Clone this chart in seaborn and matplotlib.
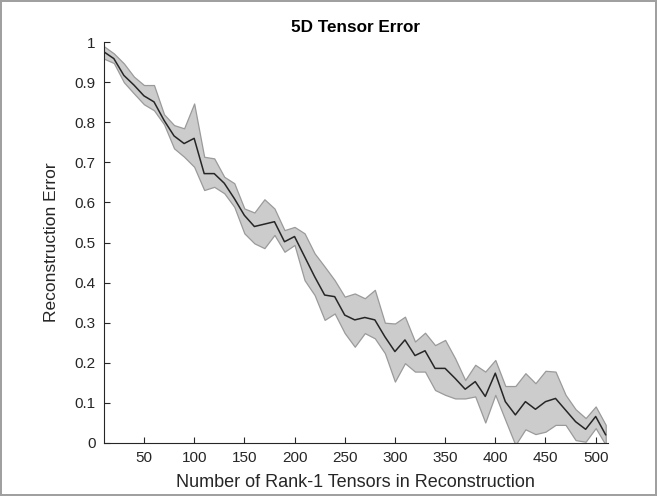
import numpy as np
import pandas as pd
import matplotlib
matplotlib.use("Agg")
import matplotlib.pyplot as plt
import seaborn as sns

rank_counts = list(range(10, 511, 10))
mean_error = [0.976, 0.959, 0.917, 0.893, 0.866, 0.851, 0.805, 0.766, 0.747, 0.760,
              0.672, 0.672, 0.648, 0.610, 0.568, 0.540, 0.546, 0.552, 0.502, 0.515,
              0.465, 0.415, 0.369, 0.365, 0.319, 0.307, 0.313, 0.307, 0.265, 0.228,
              0.257, 0.218, 0.230, 0.186, 0.186, 0.161, 0.134, 0.153, 0.116, 0.174,
              0.103, 0.070, 0.103, 0.084, 0.103, 0.111, 0.082, 0.053, 0.034, 0.066,
              0.020]
upper_error = [0.990, 0.972, 0.947, 0.914, 0.893, 0.893, 0.820, 0.793, 0.785, 0.847,
               0.714, 0.710, 0.664, 0.648, 0.585, 0.575, 0.608, 0.585, 0.531, 0.539,
               0.523, 0.473, 0.440, 0.406, 0.365, 0.373, 0.361, 0.382, 0.300, 0.298,
               0.315, 0.253, 0.275, 0.244, 0.257, 0.211, 0.157, 0.195, 0.178, 0.207,
               0.142, 0.142, 0.174, 0.149, 0.180, 0.178, 0.120, 0.084, 0.062, 0.091,
               0.045]
lower_error = [0.959, 0.948, 0.900, 0.872, 0.845, 0.830, 0.795, 0.735, 0.714, 0.689,
               0.631, 0.639, 0.623, 0.589, 0.523, 0.498, 0.486, 0.519, 0.477, 0.494,
               0.406, 0.369, 0.307, 0.323, 0.274, 0.240, 0.274, 0.261, 0.224, 0.153,
               0.199, 0.178, 0.178, 0.132, 0.120, 0.111, 0.111, 0.116, 0.051, 0.120,
               0.057, -0.005, 0.034, 0.022, 0.028, 0.045, 0.045, 0.007, 0.003, 0.037,
               -0.005]
x_ticks = [50, 100, 150, 200, 250, 300, 350, 400, 450, 500]
y_ticks = [0, 0.1, 0.2, 0.3, 0.4, 0.5, 0.6, 0.7, 0.8, 0.9, 1]
y_tick_labels = ["0", "0.1", "0.2", "0.3", "0.4", "0.5", "0.6", "0.7", "0.8", "0.9", "1"]

df = pd.DataFrame({"n": rank_counts, "mean": mean_error,
                   "lo": lower_error, "hi": upper_error})

sns.set_style("ticks")
plt.rcParams["font.family"] = ["Liberation Sans", "DejaVu Sans"]
dark = "#262626"

fig = plt.figure(figsize=(6.57, 4.96), dpi=100)
fig.patch.set_edgecolor("#a0a0a0")
fig.patch.set_linewidth(1.5)
ax = fig.add_axes([0.158, 0.107, 0.767, 0.808])

ax.fill_between(df["n"], df["lo"], df["hi"], facecolor="#cccccc",
                edgecolor="#9a9a9a", linewidth=0.9, zorder=1)
sns.lineplot(data=df, x="n", y="mean", ax=ax, color="#262626",
             linewidth=1.1, zorder=2)

ax.set_xlim(10, 512)
ax.set_ylim(0, 1)
ax.set_xticks(x_ticks)
ax.set_yticks(y_ticks)
ax.set_yticklabels(y_tick_labels)
ax.tick_params(direction="in", length=4, width=0.8, colors=dark,
               labelsize=11, pad=6)
for s in ["top", "right"]:
    ax.spines[s].set_visible(False)
for s in ["left", "bottom"]:
    ax.spines[s].set_color(dark)
    ax.spines[s].set_linewidth(0.8)

ax.set_xlabel("Number of Rank-1 Tensors in Reconstruction", fontsize=13,
              color=dark, labelpad=6)
ax.set_ylabel("Reconstruction Error", fontsize=12.5, color=dark, labelpad=11)
ax.set_title("5D Tensor Error", fontsize=12.3, fontweight="bold",
             color="black", pad=7)

fig.savefig("out.png", dpi=100)
